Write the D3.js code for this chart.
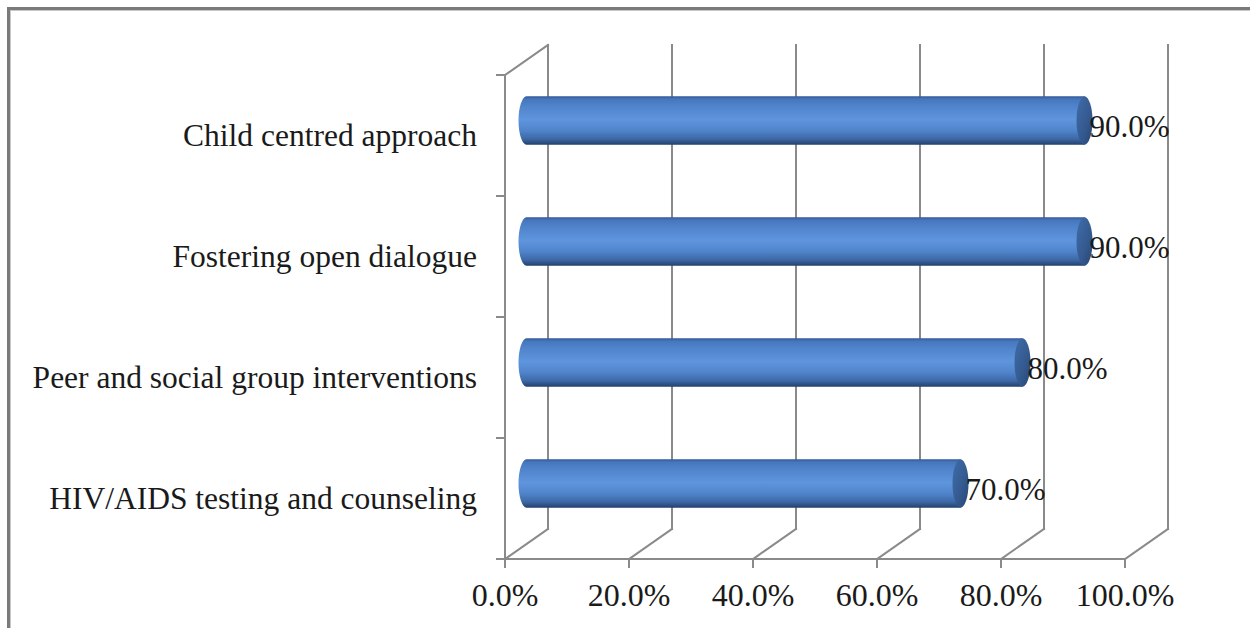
<!DOCTYPE html>
<html>
<head>
<meta charset="utf-8">
<script src="https://cdn.jsdelivr.net/npm/d3@7"></script>
<style>
  html, body { margin: 0; padding: 0; background: #fff; }
  svg { display: block; }
</style>
</head>
<body>
<svg id="chart" width="1250" height="628"></svg>
<script>
// Strategies and share of respondents naming each one
const categories = [
  "Child centred approach",
  "Fostering open dialogue",
  "Peer and social group interventions",
  "HIV/AIDS testing and counseling"
];
const values = [0.90, 0.90, 0.80, 0.70];
const tickValues = [0, 0.2, 0.4, 0.6, 0.8, 1.0];
const tickLabels = ["0.0%", "20.0%", "40.0%", "60.0%", "80.0%", "100.0%"];

const svg = d3.select("#chart");
const W = 1250, H = 628;
const fontFamily = "'Liberation Serif', 'Times New Roman', serif";

// Outer chart frame
svg.append("rect")
  .attr("x", 8.5).attr("y", 8.5)
  .attr("width", W + 20).attr("height", H + 20)
  .attr("fill", "none").attr("stroke", "#7a7a7a").attr("stroke-width", 3);
svg.append("rect")
  .attr("x", 10.5).attr("y", 10.5)
  .attr("width", W + 20).attr("height", H + 20)
  .attr("fill", "none").attr("stroke", "#c8c8c8").attr("stroke-width", 1);

// Front plane scales plus a fixed oblique depth offset for the 3D box
const x = d3.scaleLinear().domain([0, 1]).range([505, 1125]);
const y = d3.scaleBand().domain(categories).range([75, 559]).padding(0);
const depth = { dx: 43, dy: -30 };
const yTop = y.range()[0], yBot = y.range()[1];

const grid = svg.append("g")
  .attr("stroke", "#8a8a8a").attr("stroke-width", 2).attr("fill", "none")
  .attr("stroke-linecap", "square");

// Back wall vertical gridlines
grid.selectAll("line.back").data(tickValues).join("line")
  .attr("class", "back")
  .attr("x1", d => x(d) + depth.dx).attr("x2", d => x(d) + depth.dx)
  .attr("y1", yTop + depth.dy).attr("y2", yBot + depth.dy);

// Floor diagonals
grid.selectAll("line.floor").data(tickValues).join("line")
  .attr("class", "floor")
  .attr("x1", d => x(d)).attr("y1", yBot)
  .attr("x2", d => x(d) + depth.dx).attr("y2", yBot + depth.dy);

// Front floor edge (value axis line) and its ticks
grid.append("line")
  .attr("x1", x(0)).attr("x2", x(1)).attr("y1", yBot).attr("y2", yBot);
grid.selectAll("line.xtick").data(tickValues).join("line")
  .attr("class", "xtick")
  .attr("x1", d => x(d)).attr("x2", d => x(d))
  .attr("y1", yBot).attr("y2", yBot + 8);

// Left wall: front edge (category axis), top edge, and category ticks
grid.append("line")
  .attr("x1", x(0)).attr("x2", x(0)).attr("y1", yTop).attr("y2", yBot);
grid.append("line")
  .attr("x1", x(0)).attr("y1", yTop)
  .attr("x2", x(0) + depth.dx).attr("y2", yTop + depth.dy);
const catTicks = categories.map(c => y(c)).concat([yBot]);
grid.selectAll("line.ytick").data(catTicks).join("line")
  .attr("class", "ytick")
  .attr("x1", x(0) - 8).attr("x2", x(0))
  .attr("y1", d => d).attr("y2", d => d);

// Gradients for the cylinders
const defs = svg.append("defs");
const body = defs.append("linearGradient").attr("id", "cylBody")
  .attr("x1", 0).attr("y1", 0).attr("x2", 0).attr("y2", 1);
[[0, "#34599a"], [0.06, "#4677bd"], [0.25, "#5287cf"], [0.48, "#5f95dd"],
 [0.7, "#5085cc"], [0.88, "#3d68a6"], [1, "#23406b"]]
  .forEach(([o, c]) => body.append("stop").attr("offset", o).attr("stop-color", c));
const cap = defs.append("linearGradient").attr("id", "cylCap")
  .attr("x1", 0).attr("y1", 0).attr("x2", 1).attr("y2", 1);
[[0, "#406da9"], [0.6, "#34598f"], [1, "#274673"]]
  .forEach(([o, c]) => cap.append("stop").attr("offset", o).attr("stop-color", c));

// Cylinders sit at mid depth of the box
const mid = { dx: depth.dx / 2, dy: depth.dy / 2 };
const ry = y.bandwidth() * 0.2;
const rx = 8;

const bars = svg.append("g").selectAll("g.bar")
  .data(categories.map((c, i) => ({ c, v: values[i] })))
  .join("g").attr("class", "bar");

bars.append("path")
  .attr("fill", "url(#cylBody)")
  .attr("d", d => {
    const cy = y(d.c) + y.bandwidth() / 2 + mid.dy;
    const x0 = x(0) + mid.dx, x1 = x(d.v) + mid.dx;
    return `M${x1},${cy - ry} L${x0},${cy - ry} ` +
      `A${rx},${ry} 0 0 0 ${x0},${cy + ry} L${x1},${cy + ry} Z`;
  });

bars.append("ellipse")
  .attr("fill", "url(#cylCap)")
  .attr("cx", d => x(d.v) + mid.dx)
  .attr("cy", d => y(d.c) + y.bandwidth() / 2 + mid.dy)
  .attr("rx", rx).attr("ry", ry);

// Value labels at the end of each cylinder
bars.append("text")
  .attr("x", d => x(d.v) + mid.dx + rx - 3)
  .attr("y", d => y(d.c) + y.bandwidth() / 2 + mid.dy + 9)
  .attr("dominant-baseline", "middle")
  .attr("font-family", fontFamily).attr("font-size", 31).attr("fill", "#1a1a1a")
  .text(d => d3.format(".1%")(d.v));

// Category labels
svg.append("g").selectAll("text").data(categories).join("text")
  .attr("x", 477)
  .attr("y", d => y(d) + y.bandwidth() / 2 + 3)
  .attr("text-anchor", "end").attr("dominant-baseline", "middle")
  .attr("font-family", fontFamily).attr("font-size", 31.5).attr("fill", "#1a1a1a")
  .text(d => d);

// Value axis labels
svg.append("g").selectAll("text").data(tickValues).join("text")
  .attr("x", d => x(d))
  .attr("y", 606)
  .attr("text-anchor", "middle")
  .attr("font-family", fontFamily).attr("font-size", 32).attr("fill", "#1a1a1a")
  .text((d, i) => tickLabels[i]);
</script>
</body>
</html>
